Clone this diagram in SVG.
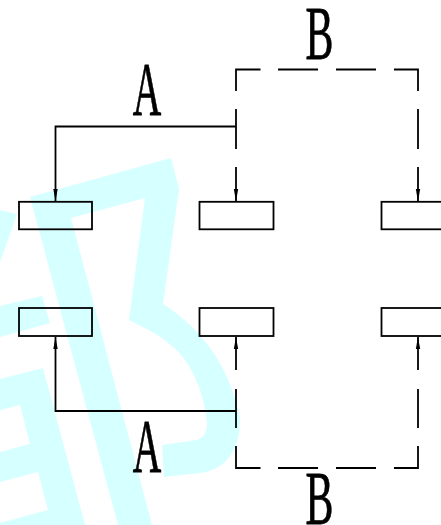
<svg xmlns="http://www.w3.org/2000/svg" width="441" height="525" viewBox="0 0 441 525">
<style>
.wm{fill:#d6ffff;stroke:none;fill-rule:evenodd}
.n{fill:none;stroke:#000;stroke-width:1.8}
.c{fill:none;stroke:#000;stroke-width:1.8}
.t{font-family:"Liberation Serif",serif;font-size:76px;fill:#000;stroke:#000;stroke-width:.8;text-anchor:middle}
</style>
<defs>
<marker id="arrow" markerUnits="userSpaceOnUse" markerWidth="12" markerHeight="6" refX="12" refY="3" orient="auto"><path d="M0 .8L12 3L0 5.200Z" fill="#000"/></marker>
</defs>
<g id="watermark">
<path class="wm" d="M30 197L171 158L179 189L163 304C200 328 228 362 240 417C241 450 225 470 200 473L164 477L162 445L197 440C205 437 207 431 207 423C205 400 195 365 173 347C160 335 145 328 129 320L145 198L71 218L152 525L118 525Z"/>
<path class="wm" d="M0 210L17 214L0 262Z"/>
<path class="wm" d="M0 306L42 296L50 323L0 337Z"/>
<path class="wm" d="M0 379L43 368L85 525L0 525ZM0 410L20 405L30 444L0 452ZM0 482L38 472L48 510L0 523Z"/>
</g>
<g id="connectors">
<path class="c" marker-end="url(#arrow)" d="M236 126.500H55.500V201"/>
<path class="c" marker-end="url(#arrow)" d="M236 411H55.500V337"/>
<path class="c" d="M236 109V149"/>
<path class="c" d="M236 389V428"/>
<path class="c" d="M236 91V69.500H260.500M278 69.500H318M336 69.500H376M394 69.500H418V91"/>
<path class="c" d="M418 109V149"/>
<path class="c" marker-end="url(#arrow)" d="M236 167V201"/>
<path class="c" marker-end="url(#arrow)" d="M418 167V201"/>
<path class="c" marker-end="url(#arrow)" d="M236 370V337"/>
<path class="c" marker-end="url(#arrow)" d="M418 370V337"/>
<path class="c" d="M418 389V428"/>
<path class="c" d="M236 446V468H260.500M278 468H318M336 468H376M394 468H418V446"/>
</g>
<g id="node-1"><rect class="n" x="19" y="201.800" width="73" height="27.500"/></g>
<g id="node-2"><rect class="n" x="199.500" y="201.800" width="74" height="27.500"/></g>
<g id="node-3"><rect class="n" x="381.500" y="201.800" width="74" height="27.500"/></g>
<g id="node-4"><rect class="n" x="19" y="308" width="73" height="28"/></g>
<g id="node-5"><rect class="n" x="199.500" y="308" width="74" height="28"/></g>
<g id="node-6"><rect class="n" x="381.500" y="308" width="74" height="28"/></g>
<g id="labels">
<text class="t" transform="translate(147 114.500) scale(.52 1)">A</text>
<text class="t" transform="translate(147 472) scale(.52 1)">A</text>
<text class="t" transform="translate(319.500 58.500) scale(.55 1)">B</text>
<text class="t" transform="translate(319.500 523.500) scale(.55 1)">B</text>
</g>
</svg>
